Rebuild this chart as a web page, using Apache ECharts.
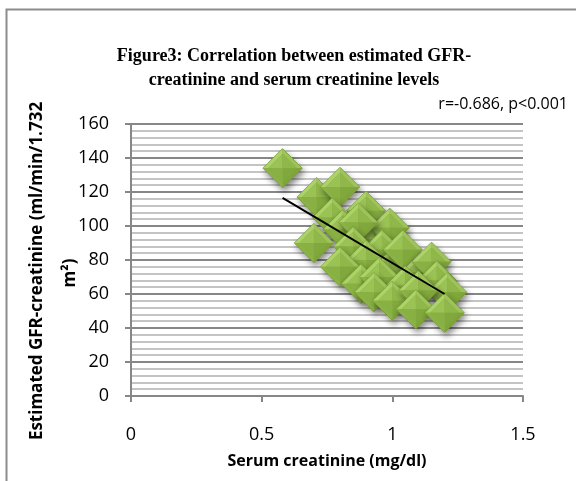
<!DOCTYPE html>
<html>
<head>
<meta charset="utf-8">
<script src="https://cdn.jsdelivr.net/npm/echarts@6/dist/echarts.min.js"></script>
<style>
  html, body { margin: 0; padding: 0; background: #fff; }
  #chart { width: 576px; height: 481px; }
</style>
</head>
<body>
<div id="chart"></div>
<script>
// serum creatinine (mg/dl) vs estimated GFR-creatinine
var creatinine = [0.58, 0.71, 0.80, 0.90, 0.77, 0.81, 0.70, 0.93, 0.99, 0.87,
                  0.85, 0.96, 0.90, 0.80, 0.88, 0.99, 1.04, 0.95, 1.11, 1.15,
                  1.05, 1.17, 1.21, 0.93, 1.00, 1.10, 1.09, 1.20];
var gfr = [134, 117, 123, 109, 105, 98, 90, 92, 99, 102,
           88, 86, 80, 76, 66, 74, 86, 70, 73, 79,
           65, 68, 61, 61, 56, 62, 51, 49];
var trendX = [0.58, 1.2];
var trendY = [116.5, 60];
var xTicks = [0, 0.5, 1, 1.5];
var yTicks = [0, 20, 40, 60, 80, 100, 120, 140, 160];

var points = creatinine.map(function (x, i) { return [x, gfr[i]]; });
var trend = trendX.map(function (x, i) { return [x, trendY[i]]; });

var myChart = echarts.init(document.getElementById('chart'));

// pyramid-looking diamond marker, 4 shaded facets
function renderDiamond(params, api) {
    var c = api.coord([api.value(0), api.value(1)]);
    var h = 19.5;
    var top = [c[0], c[1] - h], right = [c[0] + h, c[1]],
        bottom = [c[0], c[1] + h], left = [c[0] - h, c[1]];
    var ins = 5;
    var cTop = [c[0], c[1] - h + ins], cRight = [c[0] + h - ins, c[1]],
        cBottom = [c[0], c[1] + h - ins], cLeft = [c[0] - h + ins, c[1]];
    return {
        type: 'group',
        children: [
            {type: 'polygon', shape: {points: [top, right, bottom, left]},
             style: {fill: '#86ad40', stroke: '#739834', lineWidth: 1,
                     shadowBlur: 6, shadowOffsetX: 2, shadowOffsetY: 4, shadowColor: 'rgba(0,0,0,0.45)'}},
            // outer bevel
            {type: 'polygon', shape: {points: [top, cTop, cLeft, left]}, style: {fill: '#acd368'}},
            {type: 'polygon', shape: {points: [top, right, cRight, cTop]}, style: {fill: '#9ec35a'}},
            {type: 'polygon', shape: {points: [right, bottom, cBottom, cRight]}, style: {fill: '#7ea43a'}},
            {type: 'polygon', shape: {points: [bottom, left, cLeft, cBottom]}, style: {fill: '#8bb246'}},
            // pyramid facets
            {type: 'polygon', shape: {points: [cLeft, cTop, c]}, style: {fill: '#9bc255'}},
            {type: 'polygon', shape: {points: [cTop, cRight, c]}, style: {fill: '#8fb74a'}},
            {type: 'polygon', shape: {points: [cRight, cBottom, c]}, style: {fill: '#80a83c'}},
            {type: 'polygon', shape: {points: [cBottom, cLeft, c]}, style: {fill: '#88b043'}}
        ]
    };
}

var option = {
    backgroundColor: '#ffffff',
    animation: false,
    title: {
        text: 'Figure3: Correlation between estimated GFR-\ncreatinine and serum creatinine levels',
        left: 289,
        top: 39,
        textAlign: 'center',
        textStyle: {
            fontFamily: 'Liberation Serif',
            fontWeight: 'bold',
            fontSize: 18,
            lineHeight: 24,
            color: '#000'
        }
    },
    grid: {
        left: 131,
        right: 53,
        top: 124,
        bottom: 85
    },
    xAxis: {
        type: 'value',
        min: 0,
        max: 1.5,
        interval: 0.5,
        name: 'Serum creatinine (mg/dl)',
        nameLocation: 'middle',
        nameGap: 57,
        nameTextStyle: {fontFamily: 'Open Sans', fontWeight: 'bold', fontSize: 16, color: '#000'},
        axisLine: {show: true, lineStyle: {color: '#878787', width: 2}},
        axisTick: {show: true, length: 6, lineStyle: {color: '#878787', width: 2}},
        axisLabel: {
            margin: 30,
            fontFamily: 'Open Sans',
            fontSize: 18,
            color: '#000',
            formatter: function (v) { return xTicks.indexOf(v) >= 0 ? String(v) : ''; }
        },
        splitLine: {show: false}
    },
    yAxis: {
        type: 'value',
        min: 0,
        max: 160,
        interval: 20,
        axisLine: {show: true, lineStyle: {color: '#878787', width: 2}},
        axisTick: {show: true, length: 6, lineStyle: {color: '#878787', width: 2}},
        axisLabel: {
            margin: 22,
            fontFamily: 'Open Sans',
            fontSize: 18,
            color: '#000',
            formatter: function (v) { return yTicks.indexOf(v) >= 0 ? String(v) : ''; }
        },
        splitLine: {show: true, lineStyle: {color: '#878787', width: 2}},
        minorTick: {show: false, splitNumber: 5},
        minorSplitLine: {show: true, lineStyle: {color: '#c4c4c4', width: 2}}
    },
    graphic: [
        {type: 'rect', left: 4, top: 7, z: 100, silent: true,
         shape: {width: 640, height: 540},
         style: {fill: null, stroke: '#8c8c8c', lineWidth: 2}},
        {type: 'text', x: 37, y: 271, rotation: Math.PI / 2, z: 100,
         style: {text: 'Estimated GFR-creatinine (ml/min/1.732', fontFamily: 'Open Sans', fontWeight: 'bold',
                 fontSize: 17, fill: '#000', align: 'center', verticalAlign: 'middle'}},
        {type: 'text', x: 70, y: 273, rotation: Math.PI / 2, z: 100,
         style: {text: 'm²)', fontFamily: 'Open Sans', fontWeight: 'bold',
                 fontSize: 17, fill: '#000', align: 'center', verticalAlign: 'middle'}},
        {type: 'text', x: 568, y: 104, z: 100,
         style: {text: 'r=-0.686, p<0.001', fontFamily: 'Open Sans', fontSize: 16,
                 fill: '#000', align: 'right', verticalAlign: 'middle'}}
    ],
    series: [
        {
            name: 'GFR',
            type: 'custom',
            renderItem: renderDiamond,
            encode: {x: 0, y: 1},
            data: points,
            z: 3
        },
        {
            name: 'Trend',
            type: 'line',
            data: trend,
            showSymbol: false,
            symbol: 'none',
            lineStyle: {color: '#000', width: 2},
            z: 5
        }
    ]
};

myChart.setOption(option);
</script>
</body>
</html>
